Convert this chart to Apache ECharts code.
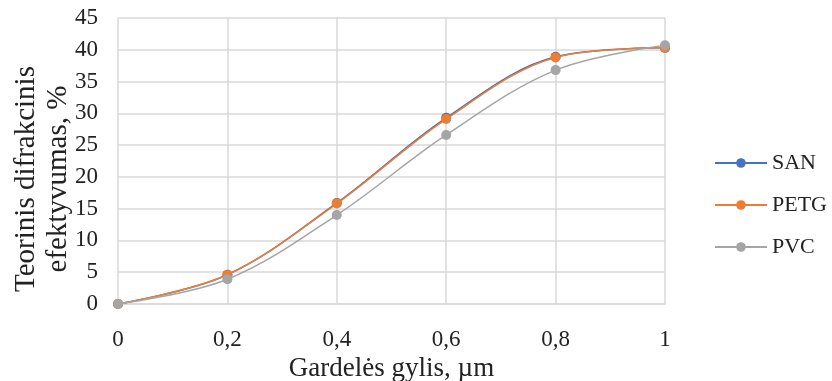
<!DOCTYPE html>
<html>
<head>
<meta charset="utf-8">
<script src="https://cdn.jsdelivr.net/npm/echarts@6/dist/echarts.min.js"></script>
<style>
  html, body { margin: 0; padding: 0; background: #fff; }
  #chart { width: 832px; height: 381px; }
</style>
</head>
<body>
<div id="chart"></div>
<script>
// Grating depth (µm) and theoretical diffraction efficiency (%) per material
const depths = [0, 0.2, 0.4, 0.6, 0.8, 1];
const sanValues = [0, 4.6, 15.9, 29.3, 38.9, 40.3];
const petgValues = [0, 4.6, 15.8, 29.1, 38.8, 40.3];
const pvcValues = [0, 3.9, 14.0, 26.6, 36.8, 40.7];
const seriesNames = ['SAN', 'PETG', 'PVC'];
const seriesColors = ['#4472C4', '#ED7D31', '#A5A5A5'];

const font = '"Liberation Serif", "Times New Roman", serif';

function pairs(values) {
  return depths.map((d, i) => [d, values[i]]);
}

const allValues = [sanValues, petgValues, pvcValues];

const chart = echarts.init(document.getElementById('chart'));
chart.setOption({
  animation: false,
  grid: { left: 118, right: 167, top: 18, bottom: 77, containLabel: false, outerBoundsMode: 'none' },
  legend: {
    orient: 'vertical',
    left: 709,
    top: 147,
    itemGap: 20,
    itemWidth: 52,
    itemHeight: 12,
    textStyle: { fontFamily: font, fontSize: 22, color: '#222' },
    data: seriesNames
  },
  xAxis: {
    type: 'value',
    min: 0,
    max: 1,
    interval: 0.2,
    name: 'Gardelės gylis, µm',
    nameLocation: 'middle',
    nameGap: 48,
    nameTextStyle: { fontFamily: font, fontSize: 27, color: '#222' },
    axisLine: { show: true, lineStyle: { color: '#d9d9d9', width: 1.5 } },
    axisTick: { show: false },
    axisLabel: {
      fontFamily: font, fontSize: 23, color: '#222', margin: 24,
      formatter: v => String(Math.round(v * 10) / 10).replace('.', ',')
    },
    splitLine: { show: true, lineStyle: { color: '#d9d9d9', width: 1.5 } }
  },
  yAxis: {
    type: 'value',
    min: 0,
    max: 45,
    interval: 5,
    name: 'Teorinis difrakcinis\nefektyvumas, %',
    nameLocation: 'middle',
    nameGap: 44,
    nameMoveOverlap: false,
    nameTextStyle: {
      fontFamily: font, fontSize: 29, color: '#222', lineHeight: 32,
      padding: [0, 36, 0, 0]
    },
    axisLine: { show: false },
    axisTick: { show: false },
    axisLabel: { fontFamily: font, fontSize: 23, color: '#222', margin: 20 },
    splitLine: { show: true, lineStyle: { color: '#d9d9d9', width: 1.5 } }
  },
  series: seriesNames.map((name, i) => ({
    name,
    type: 'line',
    smooth: 0.35,
    data: pairs(allValues[i]),
    symbol: 'circle',
    symbolSize: 10,
    z: 2 + i,
    itemStyle: { color: seriesColors[i] },
    lineStyle: { color: seriesColors[i], width: 1.5 }
  }))
});
</script>
</body>
</html>
